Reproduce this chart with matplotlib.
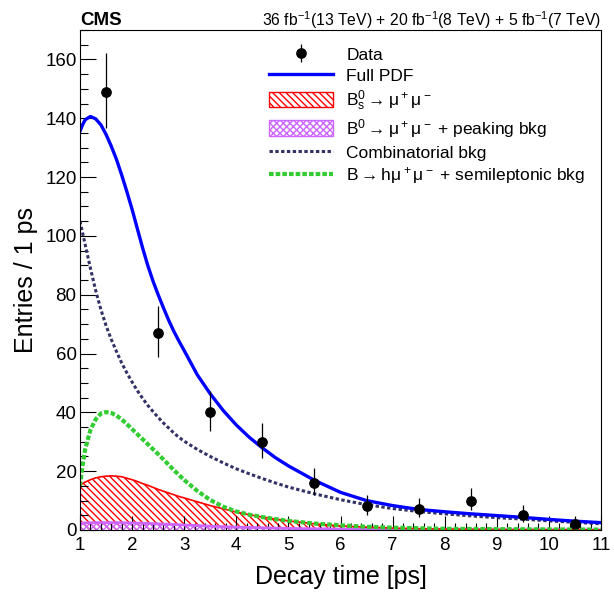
import numpy as np
import matplotlib
matplotlib.use("Agg")
import matplotlib.pyplot as plt
from matplotlib.patches import Patch
from matplotlib.lines import Line2D
from matplotlib.ticker import MultipleLocator

plt.rcParams['font.family'] = ['Liberation Sans', 'DejaVu Sans']
plt.rcParams['mathtext.fontset'] = 'custom'
plt.rcParams['mathtext.rm'] = 'Liberation Sans'
plt.rcParams['mathtext.it'] = 'Liberation Sans'
plt.rcParams['mathtext.bf'] = 'Liberation Sans:bold'
plt.rcParams['hatch.linewidth'] = 1.0

# data points (1 ps bins)
t_data = [1.5, 2.5, 3.5, 4.5, 5.5, 6.5, 7.5, 8.5, 9.5, 10.5]
n_data = [149, 67, 40, 30, 16, 8, 7, 10, 5, 2]
err_lo = [12.2, 8.2, 6.3, 5.5, 4.0, 2.8, 2.6, 3.1, 2.2, 1.3]
err_hi = [13.2, 9.2, 7.4, 6.5, 5.1, 4.0, 3.8, 4.3, 3.4, 2.6]

# fitted curves
t_curve = [1.0, 1.05, 1.1, 1.2, 1.3, 1.4, 1.5, 1.6, 1.7, 1.8, 1.9,
           2.0, 2.1, 2.2, 2.3, 2.4, 2.5, 2.6, 2.7, 2.8, 2.9, 3.0,
           3.25, 3.5, 3.75, 4.0, 4.25, 4.5, 4.75, 5.0,
           5.5, 6.0, 6.5, 7.0, 7.5, 8.0, 8.5, 9.0, 9.5, 10.0, 10.5, 11.0]
full_pdf = [135.6, 137.8, 139.5, 140.6, 139.8, 137.8, 134.5, 130.5, 126.0, 120.7, 115.0,
            109.0, 102.5, 96.0, 90.0, 84.7, 80.0, 75.6, 71.4, 67.6, 64.2, 61.0,
            52.8, 46.3, 40.6, 35.7, 31.5, 27.9, 24.6, 21.8,
            16.9, 12.8, 10.0, 8.3, 7.0, 6.2, 5.5, 4.9, 4.3, 3.6, 3.0, 2.5]
comb_bkg = [105.0, 101.0, 97.0, 89.0, 81.5, 75.0, 69.5, 64.8, 60.7, 56.8, 53.4,
            50.3, 47.4, 44.8, 42.4, 40.3, 38.3, 36.4, 34.7, 33.0, 31.5, 30.2,
            27.4, 25.0, 22.8, 20.8, 19.1, 17.5, 16.0, 14.6,
            12.3, 10.3, 8.6, 7.3, 6.3, 5.5, 4.8, 4.2, 3.7, 3.1, 2.6, 2.1]
semilep_bkg = [15.0, 22.0, 27.5, 34.0, 37.6, 39.6, 40.1, 39.8, 38.9, 37.6, 36.0,
               34.3, 32.6, 30.9, 29.2, 27.5, 25.8, 24.0, 22.2, 20.4, 18.7, 17.0,
               13.3, 10.2, 7.9, 6.3, 5.2, 4.4, 3.7, 3.1,
               2.2, 1.6, 1.1, 0.8, 0.6, 0.4, 0.35, 0.3, 0.25, 0.2, 0.17, 0.15]
bs_signal = [15.3, 15.8, 16.3, 17.1, 17.7, 18.1, 18.3, 18.4, 18.3, 18.1, 17.6,
             17.1, 16.5, 15.8, 15.2, 14.5, 13.8, 13.2, 12.6, 12.0, 11.4, 10.9,
             9.6, 8.3, 7.2, 6.1, 5.2, 4.4, 3.7, 3.1,
             2.1, 1.4, 0.95, 0.65, 0.45, 0.3, 0.22, 0.15, 0.1, 0.07, 0.05, 0.03]
b0_peaking = [2.3, 2.35, 2.4, 2.45, 2.5, 2.5, 2.5, 2.5, 2.5, 2.45, 2.42,
              2.4, 2.34, 2.28, 2.22, 2.16, 2.1, 2.02, 1.94, 1.86, 1.78, 1.7,
              1.5, 1.3, 1.15, 1.0, 0.87, 0.75, 0.65, 0.55,
              0.42, 0.3, 0.25, 0.2, 0.15, 0.12, 0.1, 0.08, 0.06, 0.05, 0.04, 0.03]

labels = ["Data", "Full PDF",
          r"$\mathrm{B_s^0} \rightarrow \mu^+\mu^-$",
          r"$\mathrm{B^0} \rightarrow \mu^+\mu^-$ + peaking bkg",
          "Combinatorial bkg",
          r"$\mathrm{B} \rightarrow \mathrm{h}\mu^+\mu^-$ + semileptonic bkg"]

c_blue = '#0000ff'
c_red = '#ff0000'
c_violet = '#cc66ff'
c_comb = '#333366'
c_green = '#33cc33'
hatch_red = '\\' * 5
hatch_violet = 'xxxxx'

fig = plt.figure(figsize=(6.14, 5.92), dpi=100)
ax = fig.add_axes([80/614, 62/592, 521/614, 500/592])

ax.fill_between(t_curve, 0, bs_signal, facecolor='none', edgecolor=c_red, hatch=hatch_red, linewidth=0)
ax.fill_between(t_curve, 0, b0_peaking, facecolor='none', edgecolor=c_violet, hatch=hatch_violet, linewidth=0)
ax.plot(t_curve, b0_peaking, color=c_violet, lw=2.0)
ax.plot(t_curve, bs_signal, color=c_red, lw=1.2)
ax.plot(t_curve, semilep_bkg, color=c_green, lw=3.0, linestyle=(0, (1.1, 0.5)))
ax.plot(t_curve, comb_bkg, color=c_comb, lw=2.2, linestyle=(0, (1.1, 0.8)))
ax.plot(t_curve, full_pdf, color=c_blue, lw=2.4)
eb = ax.errorbar(t_data, n_data, yerr=[err_lo, err_hi], fmt='o', color='black',
                 markersize=6.7, elinewidth=0.9, capsize=0, zorder=5)

ax.set_xlim(1, 11)
ax.set_ylim(0, 170)
ax.xaxis.set_major_locator(MultipleLocator(1))
ax.xaxis.set_minor_locator(MultipleLocator(0.2))
ax.yaxis.set_major_locator(MultipleLocator(20))
ax.yaxis.set_minor_locator(MultipleLocator(5))
ax.tick_params(which='both', direction='in', top=False, right=False, width=0.8, labelsize=13.5)
ax.tick_params(axis='y', which='major', length=11.5, pad=2.5)
ax.tick_params(axis='y', which='minor', length=5.8)
ax.tick_params(axis='x', which='major', length=10, pad=5)
ax.tick_params(axis='x', which='minor', length=5)
for s in ax.spines.values():
    s.set_linewidth(0.8)

ax.set_xlabel('Decay time [ps]', fontsize=18, labelpad=8)
ax.set_ylabel('Entries / 1 ps', fontsize=18, labelpad=5)

fig.text(80/614, 1 - 25/592, 'CMS', fontsize=13.5, fontweight='bold', ha='left', va='baseline')
fig.text(601/614, 1 - 26/592, r'36 fb$^{-1}$(13 TeV) + 20 fb$^{-1}$(8 TeV) + 5 fb$^{-1}$(7 TeV)',
         fontsize=11.3, ha='right', va='baseline')

handles = [eb,
           Line2D([], [], color=c_blue, lw=2.4),
           Patch(facecolor='none', edgecolor=c_red, hatch=hatch_red, lw=1.0),
           Patch(facecolor='none', edgecolor=c_violet, hatch=hatch_violet, lw=1.0),
           Line2D([], [], color=c_comb, lw=2.2, linestyle=(0, (1.1, 0.8))),
           Line2D([], [], color=c_green, lw=3.0, linestyle=(0, (1.1, 0.5)))]
ax.legend(handles, labels, loc='upper left', bbox_to_anchor=(269/614, 1 - 46/592),
          bbox_transform=fig.transFigure, frameon=False, fontsize=12.5,
          handlelength=3.7, handleheight=1.0, handletextpad=0.75, labelspacing=0.25,
          borderpad=0, borderaxespad=0)

fig.savefig('out.png', dpi=100)
